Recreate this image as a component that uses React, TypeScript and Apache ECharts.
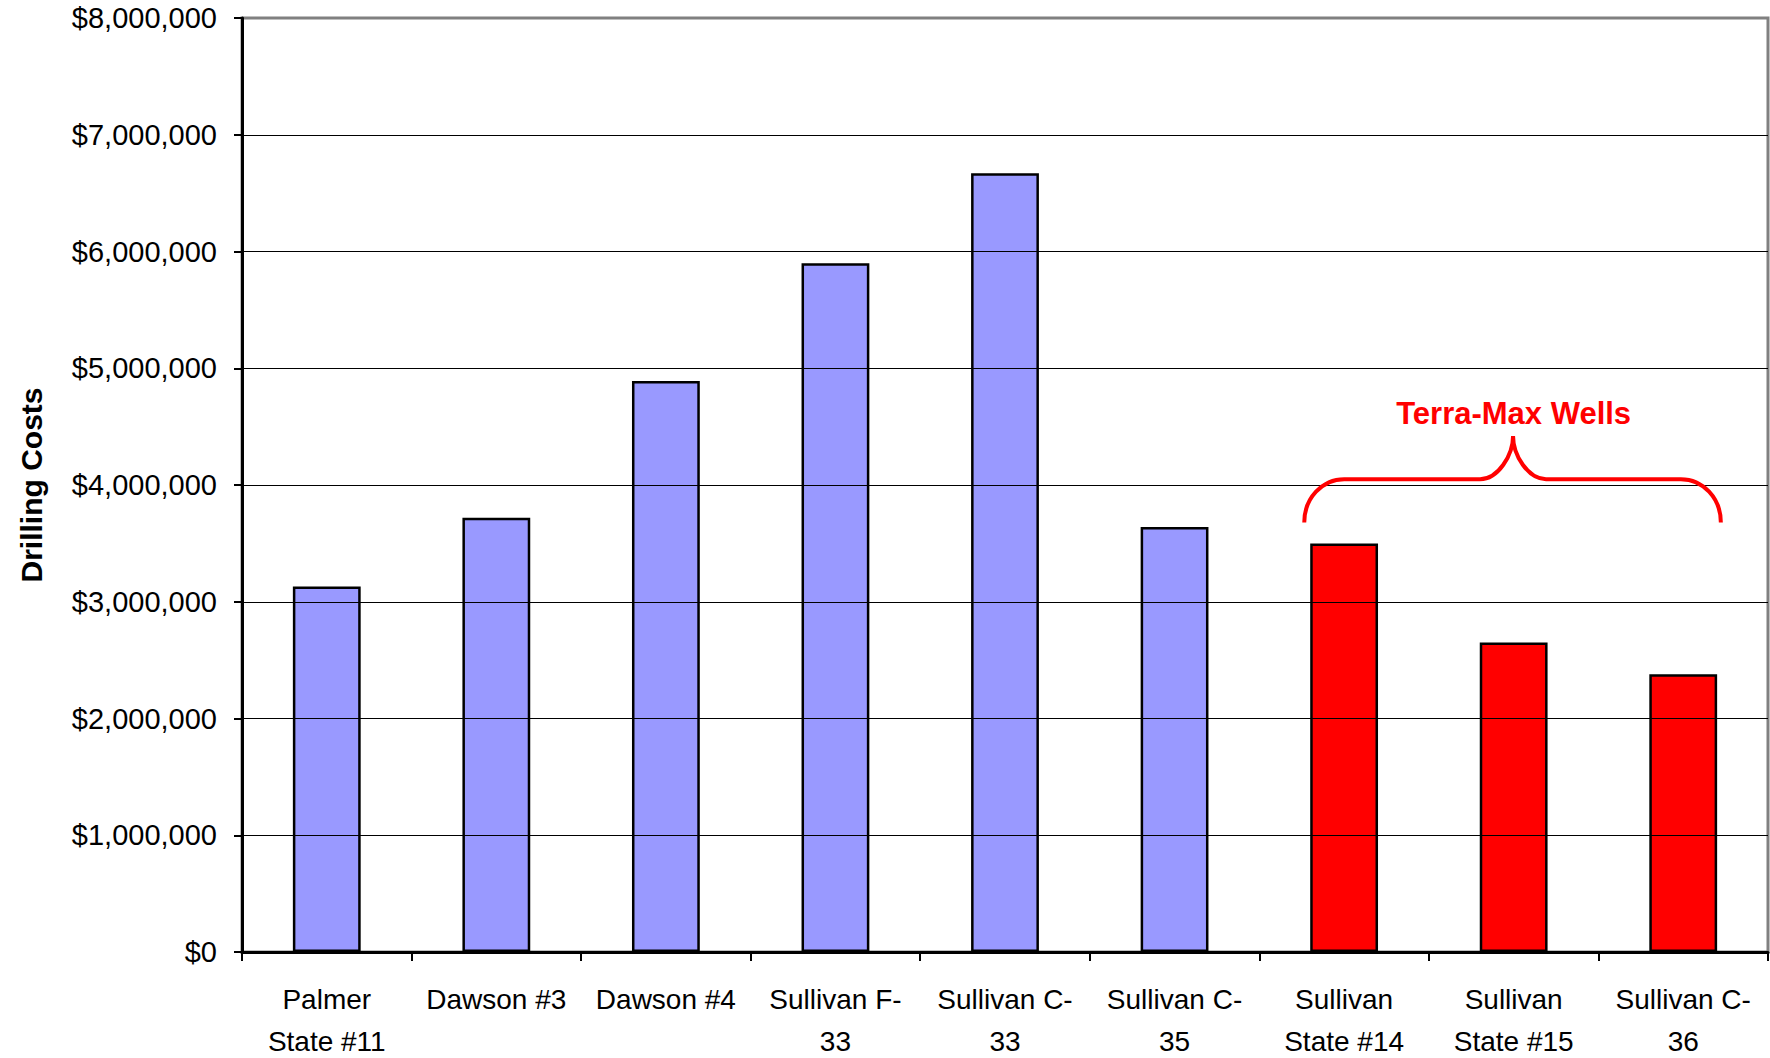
import React, { useEffect, useRef } from "react";
import * as echarts from "echarts";

// ---- Data ----
const categories = [
  "Palmer\nState #11",
  "Dawson #3",
  "Dawson #4",
  "Sullivan F-\n33",
  "Sullivan C-\n33",
  "Sullivan C-\n35",
  "Sullivan\nState #14",
  "Sullivan\nState #15",
  "Sullivan C-\n36",
];
const drillingCosts = [3130000, 3720000, 4890000, 5900000, 6670000, 3640000, 3500000, 2650000, 2380000];
const isTerraMaxWell = [false, false, false, false, false, false, true, true, true];
const yAxisTitle = "Drilling Costs";
const annotationText = "Terra-Max Wells";
const yMin = 0;
const yMax = 8000000;
const yInterval = 1000000;

// annotation anchor values (in data units)
const braceEndValue = 3680000;
const bracePeakValue = 4420000;
const annotationLabelValue = 4610000;

// ---- Styles ----
const FONT = '"Liberation Sans", Arial, sans-serif';
const OTHER_COLOR = "#9999FF";
const TERRA_COLOR = "#FF0000";

const BRACE_W = 417;
const BRACE_H = 86;
const braceD =
  "M0 86 C0 62 18 43 40 43 L176 43 C194 43 209 19 209 0 C209 19 224 43 242 43 L377 43 C399 43 417 62 417 86";
echarts.graphic.registerShape("brace", echarts.graphic.extendPath(braceD, {}));

function formatMoney(v: number): string {
  return "$" + Math.round(v).toString().replace(/\B(?=(\d{3})+(?!\d))/g, ",");
}

export default function App() {
  const ref = useRef<HTMLDivElement>(null);

  useEffect(() => {
    if (!ref.current) return;
    const chart = echarts.init(ref.current, null, { renderer: "svg" });
    chart.setOption({
      animation: false,
      backgroundColor: "#ffffff",
      grid: {
        left: 242,
        top: 18,
        right: 2,
        bottom: 106,
        containLabel: false,
        outerBoundsMode: "none",
        show: true,
        borderColor: "#808080",
        borderWidth: 3,
        backgroundColor: "transparent",
      },
      xAxis: {
        type: "category",
        data: categories,
        axisLine: { show: true, lineStyle: { color: "#000", width: 3 } },
        axisTick: { show: true, length: 9, lineStyle: { color: "#000", width: 2 } },
        axisLabel: {
          interval: 0,
          color: "#000",
          fontFamily: FONT,
          fontSize: 28,
          lineHeight: 42,
          margin: 26,
          align: "center",
        },
        splitLine: { show: false },
        z: 5,
      },
      yAxis: {
        type: "value",
        min: yMin,
        max: yMax,
        interval: yInterval,
        name: yAxisTitle,
        nameLocation: "middle",
        nameGap: 196,
        nameRotate: 90,
        nameTextStyle: { color: "#000", fontFamily: FONT, fontSize: 30, fontWeight: "bold" },
        axisLine: { show: true, lineStyle: { color: "#000", width: 3 } },
        axisTick: { show: true, length: 8, lineStyle: { color: "#000", width: 2 } },
        axisLabel: {
          color: "#000",
          fontFamily: FONT,
          fontSize: 29,
          margin: 25,
          formatter: (v: number) => formatMoney(v),
        },
        splitLine: { show: true, showMaxLine: false, lineStyle: { color: "#000", width: 1 } },
        z: 5,
      },
      series: [
        {
          type: "bar",
          barWidth: "40%",
          data: drillingCosts.map((v, i) => ({
            value: v,
            itemStyle: {
              color: isTerraMaxWell[i] ? TERRA_COLOR : OTHER_COLOR,
              borderColor: "#000",
              borderWidth: 2.5,
            },
          })),
          z: 3,
        },
      ],
    });

    const terraIdx = isTerraMaxWell.map((t, i) => (t ? i : -1)).filter((i) => i >= 0);
    const firstIdx = terraIdx[0];
    const lastIdx = terraIdx[terraIdx.length - 1];
    const midIdx = (firstIdx + lastIdx) / 2;
    const cx = (i: number) => chart.convertToPixel({ xAxisIndex: 0 }, i) as number;
    const cy = (v: number) => chart.convertToPixel({ yAxisIndex: 0 }, v) as number;
    const band = cx(1) - cx(0);
    const left = cx(firstIdx) - 0.235 * band;
    const right = cx(lastIdx) + 0.222 * band;
    const peakX = Number.isInteger(midIdx) ? cx(midIdx) : (cx(Math.floor(midIdx)) + cx(Math.ceil(midIdx))) / 2;
    const endY = cy(braceEndValue);
    const peakY = cy(bracePeakValue);
    const labelY = cy(annotationLabelValue);

    chart.setOption({
      graphic: [
        {
          type: "brace",
          x: left,
          y: peakY,
          scaleX: (right - left) / BRACE_W,
          scaleY: (endY - peakY) / BRACE_H,
          silent: true,
          z: 10,
          style: { fill: "none", stroke: TERRA_COLOR, lineWidth: 4, strokeNoScale: true },
        },
        {
          type: "text",
          x: peakX,
          y: labelY,
          silent: true,
          z: 10,
          style: {
            text: annotationText,
            fill: TERRA_COLOR,
            fontFamily: FONT,
            fontSize: 31,
            fontWeight: "bold",
            align: "center",
            verticalAlign: "middle",
          },
        },
      ],
    });

    return () => chart.dispose();
  }, []);

  return (
    <div
      ref={ref}
      style={{ position: "absolute", left: 0, top: 0, width: 1770, height: 1058, background: "#fff" }}
    />
  );
}
